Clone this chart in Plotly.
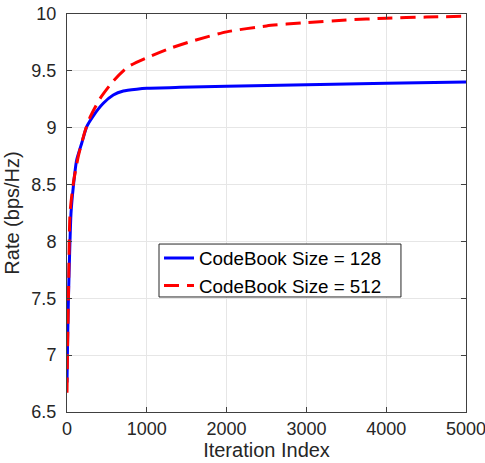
import plotly.graph_objects as go

iter_128 = [0, 8, 18, 35, 50, 79, 121, 184, 247, 330, 455, 580, 706, 873, 1000, 1416, 2001, 3003, 4006, 5000]
rate_128 = [6.76, 7.15, 7.5, 7.95, 8.247, 8.48, 8.716, 8.863, 9.009, 9.105, 9.215, 9.288, 9.323, 9.339, 9.347, 9.355, 9.364, 9.378, 9.39, 9.402]

iter_512 = [0, 8, 18, 38, 79, 142, 226, 288, 413, 580, 768, 998, 1290, 1583, 2000, 2500, 3000, 3500, 4000, 4500, 5000]
rate_512 = [6.67, 7.1, 7.5, 8.247, 8.51, 8.75, 8.97, 9.09, 9.255, 9.41, 9.537, 9.615, 9.698, 9.765, 9.843, 9.895, 9.925, 9.947, 9.963, 9.973, 9.98]

x_ticks = [0, 1000, 2000, 3000, 4000, 5000]
y_ticks = [6.5, 7, 7.5, 8, 8.5, 9, 9.5, 10]

font = "Liberation Sans, Arial, sans-serif"
fig = go.Figure()
fig.add_trace(go.Scatter(x=iter_128, y=rate_128, mode="lines", name="CodeBook Size = 128",
                         line=dict(color="#0000ff", width=3, shape="spline", smoothing=0.5)))
fig.add_trace(go.Scatter(x=iter_512, y=rate_512, mode="lines", name="CodeBook Size = 512",
                         line=dict(color="#ff0000", width=3, dash="15px,8px", shape="spline", smoothing=0.6)))

axis_common = dict(showline=True, linecolor="#404040", linewidth=1, mirror="ticks",
                   ticks="inside", ticklen=5, tickcolor="#404040",
                   showgrid=True, gridcolor="#e6e6e6", gridwidth=1, zeroline=False,
                   ticklabeloverflow="allow", automargin=False,
                   tickfont=dict(family=font, size=18, color="#262626"))

# legend frame (white box with dark border, like MATLAB's legend)
leg_x0, leg_x1, leg_y0, leg_y1 = 0.2306, 0.837, 0.289, 0.422

fig.update_layout(
    width=485, height=463,
    margin=dict(l=67, r=19, t=14, b=51),
    paper_bgcolor="white", plot_bgcolor="white",
    font=dict(family=font, size=18, color="#262626"),
    xaxis=dict(range=[0, 5000], tickvals=x_ticks, ticktext=[str(v) for v in x_ticks],
               title=dict(text="Iteration Index", standoff=2, font=dict(family=font, size=20)),
               **axis_common),
    yaxis=dict(range=[6.5, 10], tickvals=y_ticks, ticktext=[("%g" % v) for v in y_ticks],
               ticklabelstandoff=6,
               title=dict(text="Rate (bps/Hz)", standoff=6, font=dict(family=font, size=20)),
               **axis_common),
    shapes=[dict(type="rect", xref="paper", yref="paper", x0=leg_x0, x1=leg_x1, y0=leg_y0, y1=leg_y1,
                 fillcolor="white", line=dict(color="#262626", width=1), layer="above")],
    legend=dict(x=leg_x0, y=0.434, xanchor="left", yanchor="top",
                bgcolor="rgba(0,0,0,0)", borderwidth=0,
                font=dict(family=font, size=18.8, color="#000000"),
                tracegroupgap=0, itemwidth=30),
    showlegend=True,
)
fig.write_html("out.html",
               post_script="document.body.style.margin='0';document.documentElement.style.overflow='hidden';")
